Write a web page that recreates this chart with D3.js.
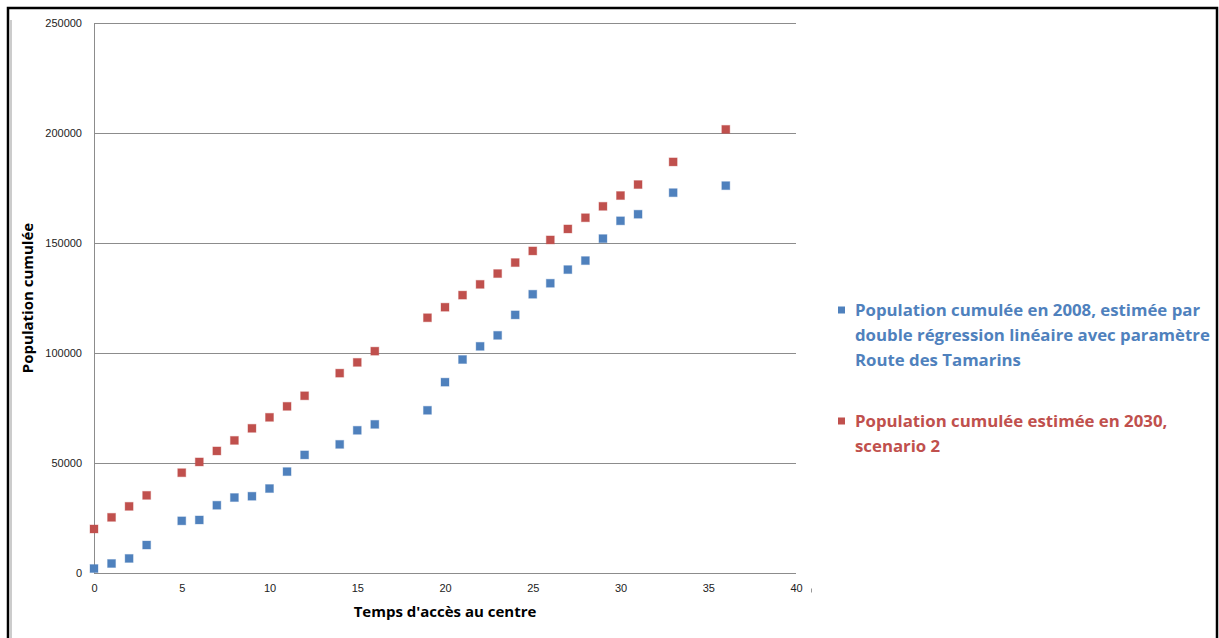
<!DOCTYPE html>
<html lang="fr">
<head>
<meta charset="UTF-8">
<title>Population cumulée</title>
<script src="https://d3js.org/d3.v7.min.js"></script>
<style>
    body { margin: 0; background: #fff; }
    svg { font-family: "Open Sans", sans-serif; }
    .tick text { font-size: 11px; fill: #222; }
    .grid line { stroke: #8c8c8c; stroke-width: 1; }
    .axis-title { font-weight: bold; fill: #000; }
    .legend text { font-weight: bold; font-size: 16.8px; }
</style>
</head>
<body>
<div id="chart"></div>
<script>
    // temps d'accès (minutes) - mêmes abscisses pour les deux séries
    const temps = [0, 1, 2, 3, 5, 6, 7, 8, 9, 10, 11, 12, 14, 15, 16, 19, 20, 21, 22, 23, 24, 25, 26, 27, 28, 29, 30, 31, 33, 36];
    const pop2008 = [1800, 4100, 6400, 12500, 23500, 23900, 30600, 34100, 34700, 38200, 45900, 53500, 58300, 64700, 67400,
        73800, 86600, 96900, 102900, 107900, 117200, 126600, 131600, 137800, 141900, 151900, 160000, 163000, 172800, 176000];
    const pop2030 = [19800, 25100, 30100, 35100, 45400, 50300, 55300, 60100, 65600, 70600, 75600, 80400, 90700, 95600, 100700,
        115900, 120700, 126200, 131100, 136000, 141000, 146300, 151300, 156300, 161400, 166600, 171500, 176500, 186800, 201600];
    const xTicks = [0, 5, 10, 15, 20, 25, 30, 35, 40];
    const yTicks = [0, 50000, 100000, 150000, 200000, 250000];

    const series = [
        { name: ["Population cumulée en 2008, estimée par", "double régression linéaire avec paramètre", "Route des Tamarins"], values: pop2008, color: "#4f81bd" },
        { name: ["Population cumulée estimée en 2030,", "scenario 2"], values: pop2030, color: "#c0504d" }
    ];

    const W = 1219, H = 638;
    const svg = d3.select("#chart").append("svg").attr("width", W).attr("height", H);

    // cadre
    svg.append("rect")
        .attr("x", 8).attr("y", 8).attr("width", 1209).attr("height", 660)
        .attr("fill", "#fff").attr("stroke", "#000").attr("stroke-width", 2.5);
    svg.append("line")
        .attr("x1", 11).attr("x2", 11).attr("y1", 20).attr("y2", H)
        .attr("stroke", "#999").attr("stroke-width", 1);

    const x = d3.scaleLinear().domain([0, 40]).range([94, 796]);
    const y = d3.scaleLinear().domain([0, 250000]).range([572.5, 23]);

    // grille horizontale
    svg.append("g").attr("class", "grid")
        .selectAll("line").data(yTicks).enter().append("line")
        .attr("x1", x(0)).attr("x2", x(40))
        .attr("y1", d => Math.round(y(d)) + 0.5).attr("y2", d => Math.round(y(d)) + 0.5);

    // axe vertical
    svg.append("line")
        .attr("x1", x(0) + 0.5).attr("x2", x(0) + 0.5)
        .attr("y1", y(250000)).attr("y2", y(0))
        .attr("stroke", "#8c8c8c");

    const yAxis = svg.append("g")
        .attr("transform", `translate(${x(0)},0)`)
        .call(d3.axisLeft(y).tickValues(yTicks).tickFormat(d3.format("d")).tickSize(0).tickPadding(12));
    yAxis.select(".domain").remove();

    const xAxis = svg.append("g")
        .attr("transform", `translate(0,${y(0)})`)
        .call(d3.axisBottom(x).tickValues(xTicks).tickFormat(d3.format("d")).tickSize(0).tickPadding(12));
    xAxis.select(".domain").remove();

    // petite marque après 40
    svg.append("line")
        .attr("x1", x(40) + 15.5).attr("x2", x(40) + 15.5)
        .attr("y1", y(0) + 16).attr("y2", y(0) + 20)
        .attr("stroke", "#999");

    svg.append("text").attr("class", "axis-title")
        .attr("x", 445).attr("y", 617)
        .attr("text-anchor", "middle").style("font-size", "15px")
        .text("Temps d'accès au centre");

    svg.append("text").attr("class", "axis-title")
        .attr("transform", "translate(33,298) rotate(-90)")
        .attr("text-anchor", "middle").style("font-size", "15px")
        .text("Population cumulée");

    // points
    const ms = 8;
    series.forEach(s => {
        svg.append("g").selectAll("rect").data(s.values).enter().append("rect")
            .attr("x", (d, i) => x(temps[i]) - ms / 2)
            .attr("y", d => y(d) - ms / 2)
            .attr("width", ms).attr("height", ms)
            .attr("fill", s.color)
            .attr("stroke", s.color).attr("stroke-opacity", 0.35).attr("stroke-width", 1);
    });

    // légende
    const legend = svg.append("g").attr("class", "legend");
    const legY = [310, 421];
    series.forEach((s, k) => {
        legend.append("rect")
            .attr("x", 838).attr("y", legY[k] - 3.5).attr("width", 7).attr("height", 7)
            .attr("fill", s.color);
        s.name.forEach((line, j) => {
            legend.append("text")
                .attr("x", 855).attr("y", legY[k] + j * 25)
                .attr("dy", "0.35em")
                .attr("fill", s.color)
                .text(line);
        });
    });
</script>
</body>
</html>
